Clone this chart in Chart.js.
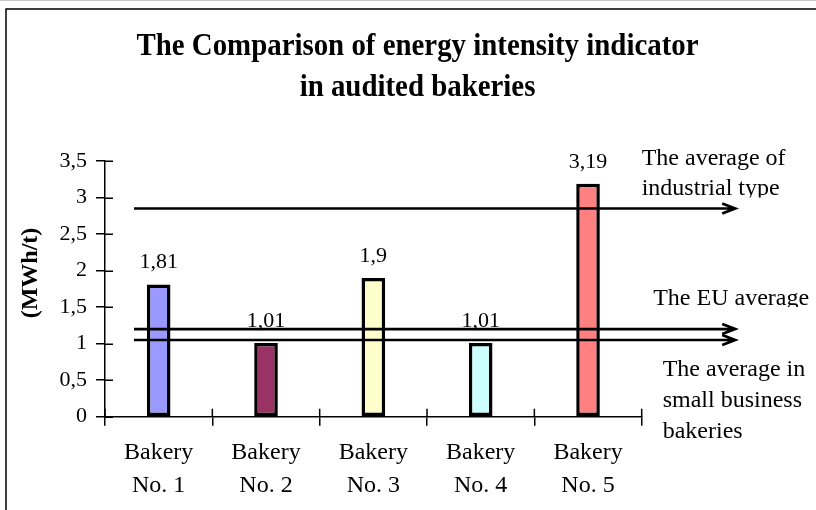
<!DOCTYPE html>
<html>
<head>
<meta charset="utf-8">
<script src="https://cdn.jsdelivr.net/npm/chart.js@4"></script>
<style>
html,body{margin:0;padding:0;background:#fff;}
#wrap{width:816px;height:510px;position:relative;}
canvas{display:block;}
</style>
</head>
<body>
<div id="wrap"><canvas id="c" width="816" height="510"></canvas></div>
<script>
const categories = [['Bakery', 'No. 1'], ['Bakery', 'No. 2'], ['Bakery', 'No. 3'], ['Bakery', 'No. 4'], ['Bakery', 'No. 5']];
const values = [1.81, 1.01, 1.9, 1.01, 3.19];
const barColors = ['#9999FF', '#993366', '#FFFFCC', '#CCFFFF', '#FF8080'];
const titleLines = ['The Comparison of energy intensity indicator', 'in audited bakeries'];
const axisTitle = '(MWh/t)';
const yTicks = [0, 0.5, 1, 1.5, 2, 2.5, 3, 3.5];
const referenceValues = [2.85, 1.2, 1.05];
const referenceLabels = [['The average of', 'industrial type'], ['The EU average'], ['The average in', 'small business', 'bakeries']];

const SERIF = '"Liberation Serif", "Times New Roman", serif';
const fmt = v => String(v).replace('.', ',');

const decor = {
  id: 'decor',
  beforeDraw(chart) {
    const ctx = chart.ctx;
    ctx.save();
    ctx.fillStyle = '#fff';
    ctx.fillRect(0, 0, chart.width, chart.height);
    // light top line
    ctx.strokeStyle = '#c8c8c8';
    ctx.lineWidth = 1;
    ctx.beginPath(); ctx.moveTo(0, 0.5); ctx.lineTo(chart.width, 0.5); ctx.stroke();
    // frame (cut on right / bottom)
    ctx.strokeStyle = '#000';
    ctx.lineWidth = 1.5;
    ctx.beginPath();
    ctx.moveTo(chart.width, 9); ctx.lineTo(6, 9); ctx.lineTo(6, chart.height);
    ctx.stroke();
    // title (condensed like the reference)
    ctx.fillStyle = '#000';
    ctx.font = 'bold 32px ' + SERIF;
    ctx.textAlign = 'center';
    ctx.textBaseline = 'alphabetic';
    const sx = 562 / ctx.measureText(titleLines[0]).width;
    ctx.save();
    ctx.translate(417.5, 0);
    ctx.scale(sx, 1);
    ctx.fillText(titleLines[0], 0, 55);
    ctx.fillText(titleLines[1], 0, 96);
    ctx.restore();
    // y axis title
    ctx.save();
    ctx.translate(31, 273);
    ctx.rotate(-Math.PI / 2);
    ctx.font = 'bold 24px ' + SERIF;
    ctx.textBaseline = 'middle';
    ctx.fillText(axisTitle, 0, 0);
    ctx.restore();
    ctx.restore();
  },
  afterDraw(chart) {
    const ctx = chart.ctx;
    const xs = chart.scales.x, ys = chart.scales.y;
    const a = chart.chartArea;
    ctx.save();
    ctx.strokeStyle = '#000';
    ctx.lineWidth = 1.5;
    // inner parts of crossing ticks
    ctx.beginPath();
    yTicks.forEach(t => {
      const y = Math.round(ys.getPixelForValue(t)) + 0.25;
      ctx.moveTo(a.left, y); ctx.lineTo(a.left + 8, y);
    });
    for (let i = 0; i <= categories.length; i++) {
      const x = xs.getPixelForValue(i - 0.5);
      ctx.moveTo(x, a.bottom); ctx.lineTo(x, a.bottom - 8);
    }
    ctx.stroke();
    // value labels
    const meta = chart.getDatasetMeta(0);
    ctx.fillStyle = '#000';
    ctx.font = '22px ' + SERIF;
    ctx.textAlign = 'center';
    ctx.textBaseline = 'alphabetic';
    meta.data.forEach((bar, i) => {
      ctx.fillText(fmt(values[i]), bar.x, ys.getPixelForValue(values[i]) - 16);
    });
    // reference lines with arrows
    const x0 = a.left + 29, x1 = a.right + 93.5;
    ctx.lineWidth = 2.7;
    ctx.lineCap = 'butt';
    referenceValues.forEach(v => {
      const y = ys.getPixelForValue(v);
      ctx.beginPath();
      ctx.moveTo(x0, y); ctx.lineTo(x1, y);
      ctx.moveTo(x1 - 13, y - 5); ctx.lineTo(x1, y); ctx.lineTo(x1 - 13, y + 5);
      ctx.stroke();
    });
    // reference labels
    ctx.font = '24px ' + SERIF;
    ctx.textAlign = 'left';
    const place = [
      {dx: 0, dy: [-43, -13], clip: -13 + 2},
      {dx: 11.5, dy: [-24], clip: -24 + 2},
      {dx: 21, dy: [36, 67.5, 98.5], clip: null}
    ];
    referenceLabels.forEach((lines, k) => {
      const y = ys.getPixelForValue(referenceValues[k]);
      const p = place[k];
      ctx.save();
      if (p.clip !== null) {
        ctx.beginPath();
        ctx.rect(0, 0, chart.width, y + p.clip);
        ctx.clip();
      }
      lines.forEach((t, j) => ctx.fillText(t, a.right + p.dx, y + p.dy[j]));
      ctx.restore();
    });
    ctx.restore();
  }
};

new Chart(document.getElementById('c'), {
  type: 'bar',
  data: {
    labels: categories,
    datasets: [{
      data: values,
      backgroundColor: barColors,
      borderColor: '#000',
      borderWidth: 3.5,
      borderSkipped: false,
      categoryPercentage: 1,
      barPercentage: 0.22
    }]
  },
  options: {
    responsive: false,
    animation: false,
    events: [],
    layout: {padding: {left: 0, right: 174.3, top: 161, bottom: 0}},
    plugins: {legend: {display: false}, title: {display: false}, tooltip: {enabled: false}},
    scales: {
      x: {
        grid: {display: true, drawOnChartArea: false, drawTicks: true, tickLength: 9, color: '#000', lineWidth: 1.5, offset: true},
        border: {display: true, color: '#000', width: 1.5},
        ticks: {color: '#000', font: {family: SERIF, size: 24, lineHeight: 1.375}, padding: 11, maxRotation: 0, autoSkip: false},
        afterFit(s) { s.height = 510 - 416.7; }
      },
      y: {
        min: 0, max: 3.5,
        grid: {display: true, drawOnChartArea: false, drawTicks: true, tickLength: 9, color: '#000', lineWidth: 1.5},
        border: {display: true, color: '#000', width: 1.5},
        afterBuildTicks(s) { s.ticks = yTicks.map(v => ({value: v})); },
        ticks: {color: '#000', font: {family: SERIF, size: 22}, padding: 9, callback: v => fmt(v)},
        afterFit(s) { s.width = 105; }
      }
    }
  },
  plugins: [decor]
});
</script>
</body>
</html>
